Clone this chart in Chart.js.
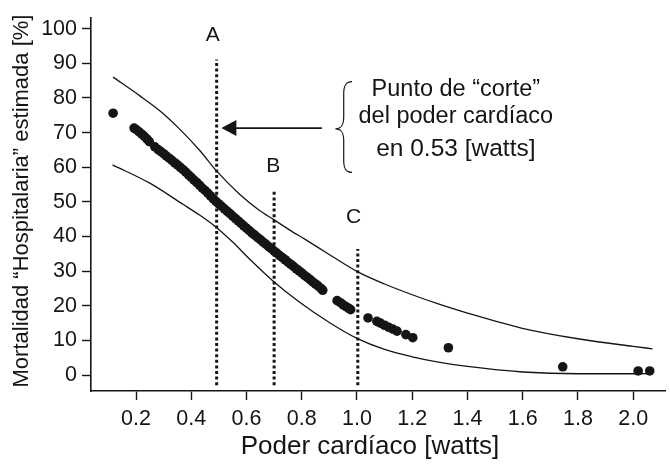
<!DOCTYPE html>
<html>
<head>
<meta charset="utf-8">
<script src="https://cdn.jsdelivr.net/npm/chart.js@4.4.1/dist/chart.umd.min.js"></script>
<style>
  html, body { margin: 0; padding: 0; background: #fff; }
</style>
</head>
<body>
<canvas id="chart" width="670" height="468"></canvas>
<script>
const FONT = '"Liberation Sans", Arial, Helvetica, sans-serif';
const INK = "#151515";

// observed patients: cardiac power [watts] vs estimated mortality [%]
const pointX = [
  0.117, 0.193, 0.20, 0.21, 0.22, 0.23, 0.24, 0.248,
  0.268, 0.28, 0.29, 0.30, 0.31, 0.32, 0.33, 0.34, 0.35, 0.36, 0.37, 0.38, 0.39,
  0.40, 0.41, 0.42, 0.43, 0.44, 0.45, 0.46, 0.47, 0.48, 0.49,
  0.50, 0.51, 0.52, 0.53, 0.54, 0.55, 0.56, 0.57, 0.58, 0.59,
  0.60, 0.61, 0.62, 0.63, 0.64, 0.65, 0.66, 0.67, 0.68, 0.69,
  0.70, 0.71, 0.72, 0.73, 0.74, 0.75, 0.76, 0.77, 0.78, 0.79,
  0.80, 0.81, 0.82, 0.83, 0.84, 0.85, 0.86, 0.87, 0.876,
  0.928, 0.94, 0.95, 0.96, 0.97, 0.977,
  1.04, 1.072, 1.085, 1.10, 1.115, 1.13, 1.145, 1.177, 1.202,
  1.331, 1.745, 2.018, 2.06,
];
const pointY = [
  75.6, 71.3, 70.9, 70.3, 69.6, 68.9, 68.1, 67.4,
  65.9, 65.1, 64.5, 63.9, 63.2, 62.6, 62.0, 61.3, 60.7, 60.0, 59.3, 58.6, 57.8,
  57.1, 56.3, 55.6, 54.8, 54.0, 53.3, 52.5, 51.7, 50.9, 50.1,
  49.4, 48.7, 48.0, 47.3, 46.6, 45.9, 45.2, 44.5, 43.8, 43.1,
  42.4, 41.7, 41.0, 40.4, 39.7, 39.1, 38.4, 37.8, 37.1, 36.5,
  35.8, 35.2, 34.5, 33.9, 33.3, 32.6, 32.0, 31.4, 30.7, 30.1,
  29.5, 28.8, 28.2, 27.6, 26.9, 26.3, 25.7, 25.0, 24.5,
  21.5, 20.9, 20.3, 19.8, 19.3, 18.9,
  16.5, 15.5, 15.0, 14.4, 13.8, 13.3, 12.7, 11.7, 10.8,
  7.9, 2.4, 1.2, 1.2,
];

// confidence band
const upperX = [0.117, 0.214, 0.286, 0.358, 0.43, 0.493, 0.574, 0.646, 0.70, 0.754, 0.814, 0.898, 1.003, 1.1, 1.2, 1.3, 1.4, 1.595, 1.8, 2.0, 2.07];
const upperY = [86.0, 80.6, 76.3, 71.0, 64.9, 58.8, 52.3, 47.6, 44.8, 42.0, 39.1, 34.9, 29.8, 26.3, 23.2, 20.4, 17.9, 13.6, 10.5, 8.3, 7.6];
const lowerX = [0.115, 0.25, 0.37, 0.43, 0.49, 0.55, 0.61, 0.70, 0.79, 0.9, 1.0, 1.1, 1.2, 1.3, 1.4, 1.6, 1.8, 2.0, 2.07];
const lowerY = [60.7, 55.4, 49.3, 46.2, 42.7, 38.4, 33.6, 26.9, 21.2, 15.2, 10.6, 7.4, 5.3, 3.7, 2.5, 0.9, 0.4, 0.4, 0.5];

// cut-off markers
const cutLabels = ["A", "B", "C"];
const cutX = [0.492, 0.700, 1.003];
const cutTop = [91.1, 53.6, 36.4];
const cutBottom = -2.9;

const xTicks = [0.2, 0.4, 0.6, 0.8, 1.0, 1.2, 1.4, 1.6, 1.8, 2.0];
const yTicks = [0, 10, 20, 30, 40, 50, 60, 70, 80, 90, 100];

const noteLines = ["Punto de \u201ccorte\u201d", "del poder card\u00edaco", "en 0.53 [watts]"];

const toXY = (xs, ys) => xs.map((x, i) => ({ x: x, y: ys[i] }));

const bandStyle = {
  type: "line",
  borderColor: INK,
  borderWidth: 1.3,
  pointRadius: 0,
  fill: false,
  cubicInterpolationMode: "monotone",
};

const cutDatasets = cutX.map((x, i) => ({
  type: "line",
  data: [{ x: x, y: cutBottom }, { x: x, y: cutTop[i] }],
  borderColor: INK,
  borderWidth: 3,
  borderDash: [3, 2.6],
  pointRadius: 0,
  fill: false,
}));

// annotations: cut labels, arrow, brace, note text, axis titles
const annotations = {
  id: "annotations",
  afterDatasetsDraw(chart) {
    const { ctx, scales: { x, y } } = chart;
    ctx.save();
    ctx.fillStyle = INK;
    ctx.strokeStyle = INK;

    ctx.font = "21px " + FONT;
    ctx.textAlign = "center";
    ctx.textBaseline = "middle";
    const labelPos = [[0.478, 98.2], [0.697, 60.4], [0.988, 45.6]];
    cutLabels.forEach((t, i) => {
      ctx.fillText(t, x.getPixelForValue(labelPos[i][0]), y.getPixelForValue(labelPos[i][1]));
    });

    // arrow pointing to A
    const ay = y.getPixelForValue(71.3);
    const ax0 = x.getPixelForValue(0.873);
    const ax1 = x.getPixelForValue(0.509);
    ctx.lineWidth = 1.6;
    ctx.beginPath();
    ctx.moveTo(ax0, ay);
    ctx.lineTo(ax1 + 12, ay);
    ctx.stroke();
    ctx.beginPath();
    ctx.moveTo(ax1, ay);
    ctx.lineTo(ax1 + 15, ay - 8);
    ctx.lineTo(ax1 + 15, ay + 8);
    ctx.closePath();
    ctx.fill();

    // curly brace
    const bx = x.getPixelForValue(0.952);
    const bTipX = x.getPixelForValue(0.922);
    const bEndX = x.getPixelForValue(0.982);
    const bTop = y.getPixelForValue(84.7);
    const bMid = y.getPixelForValue(71.1);
    const bBot = y.getPixelForValue(58.5);
    ctx.lineWidth = 1.2;
    ctx.beginPath();
    ctx.moveTo(bEndX, bTop);
    ctx.bezierCurveTo(bx + 2, bTop, bx, bTop + 4, bx, bTop + 12);
    ctx.lineTo(bx, bMid - 12);
    ctx.bezierCurveTo(bx, bMid - 4, bx - 2, bMid, bTipX, bMid);
    ctx.bezierCurveTo(bx - 2, bMid, bx, bMid + 4, bx, bMid + 12);
    ctx.lineTo(bx, bBot - 12);
    ctx.bezierCurveTo(bx, bBot - 4, bx + 2, bBot, bEndX, bBot);
    ctx.stroke();

    // note text
    const nx = x.getPixelForValue(1.358);
    const noteSize = [23.5, 23.5, 24.5];
    [82.5, 74.5, 65.3].forEach((v, i) => {
      ctx.font = noteSize[i] + "px " + FONT;
      ctx.fillText(noteLines[i], nx, y.getPixelForValue(v));
    });

    // axis titles
    ctx.font = "26px " + FONT;
    ctx.fillText("Poder card\u00edaco [watts]", 370, 447);
    ctx.save();
    ctx.translate(22, 201);
    ctx.rotate(-Math.PI / 2);
    ctx.font = "22px " + FONT;
    ctx.fillText("Mortalidad \u201cHospitalaria\u201d estimada [%]", 0, 0);
    ctx.restore();

    ctx.restore();
  },
};

new Chart(document.getElementById("chart"), {
  type: "scatter",
  data: {
    datasets: [
      {
        data: toXY(pointX, pointY),
        backgroundColor: INK,
        borderColor: INK,
        pointRadius: 4.8,
        pointHoverRadius: 4.8,
        borderWidth: 0,
      },
      Object.assign({ data: toXY(upperX, upperY) }, bandStyle),
      Object.assign({ data: toXY(lowerX, lowerY) }, bandStyle),
      ...cutDatasets,
    ],
  },
  options: {
    responsive: false,
    animation: false,
    devicePixelRatio: 1,
    layout: { padding: { left: 0, top: 15, right: 2, bottom: 0 } },
    plugins: {
      legend: { display: false },
      tooltip: { enabled: false },
    },
    scales: {
      x: {
        type: "linear",
        min: 0.037,
        max: 2.116,
        afterFit: (s) => { s.height = 77; },
        afterBuildTicks: (s) => { s.ticks = xTicks.map((v) => ({ value: v })); },
        border: { display: true, color: INK, width: 1.6 },
        grid: { drawOnChartArea: false, drawTicks: true, tickLength: 9, color: INK, tickWidth: 1.4 },
        ticks: {
          color: INK,
          font: { family: FONT, size: 21.5 },
          padding: 6,
          maxRotation: 0,
          callback: (v) => v.toFixed(1),
        },
      },
      y: {
        type: "linear",
        min: -4.58,
        max: 103.1,
        afterFit: (s) => { s.width = 91; },
        afterBuildTicks: (s) => { s.ticks = yTicks.map((v) => ({ value: v })); },
        border: { display: true, color: INK, width: 1.6 },
        grid: { drawOnChartArea: false, drawTicks: true, tickLength: 9, color: INK, tickWidth: 1.4 },
        ticks: {
          color: INK,
          font: { family: FONT, size: 21.5 },
          padding: 5,
          callback: (v) => String(v),
        },
      },
    },
  },
  plugins: [annotations],
});
</script>
</body>
</html>
